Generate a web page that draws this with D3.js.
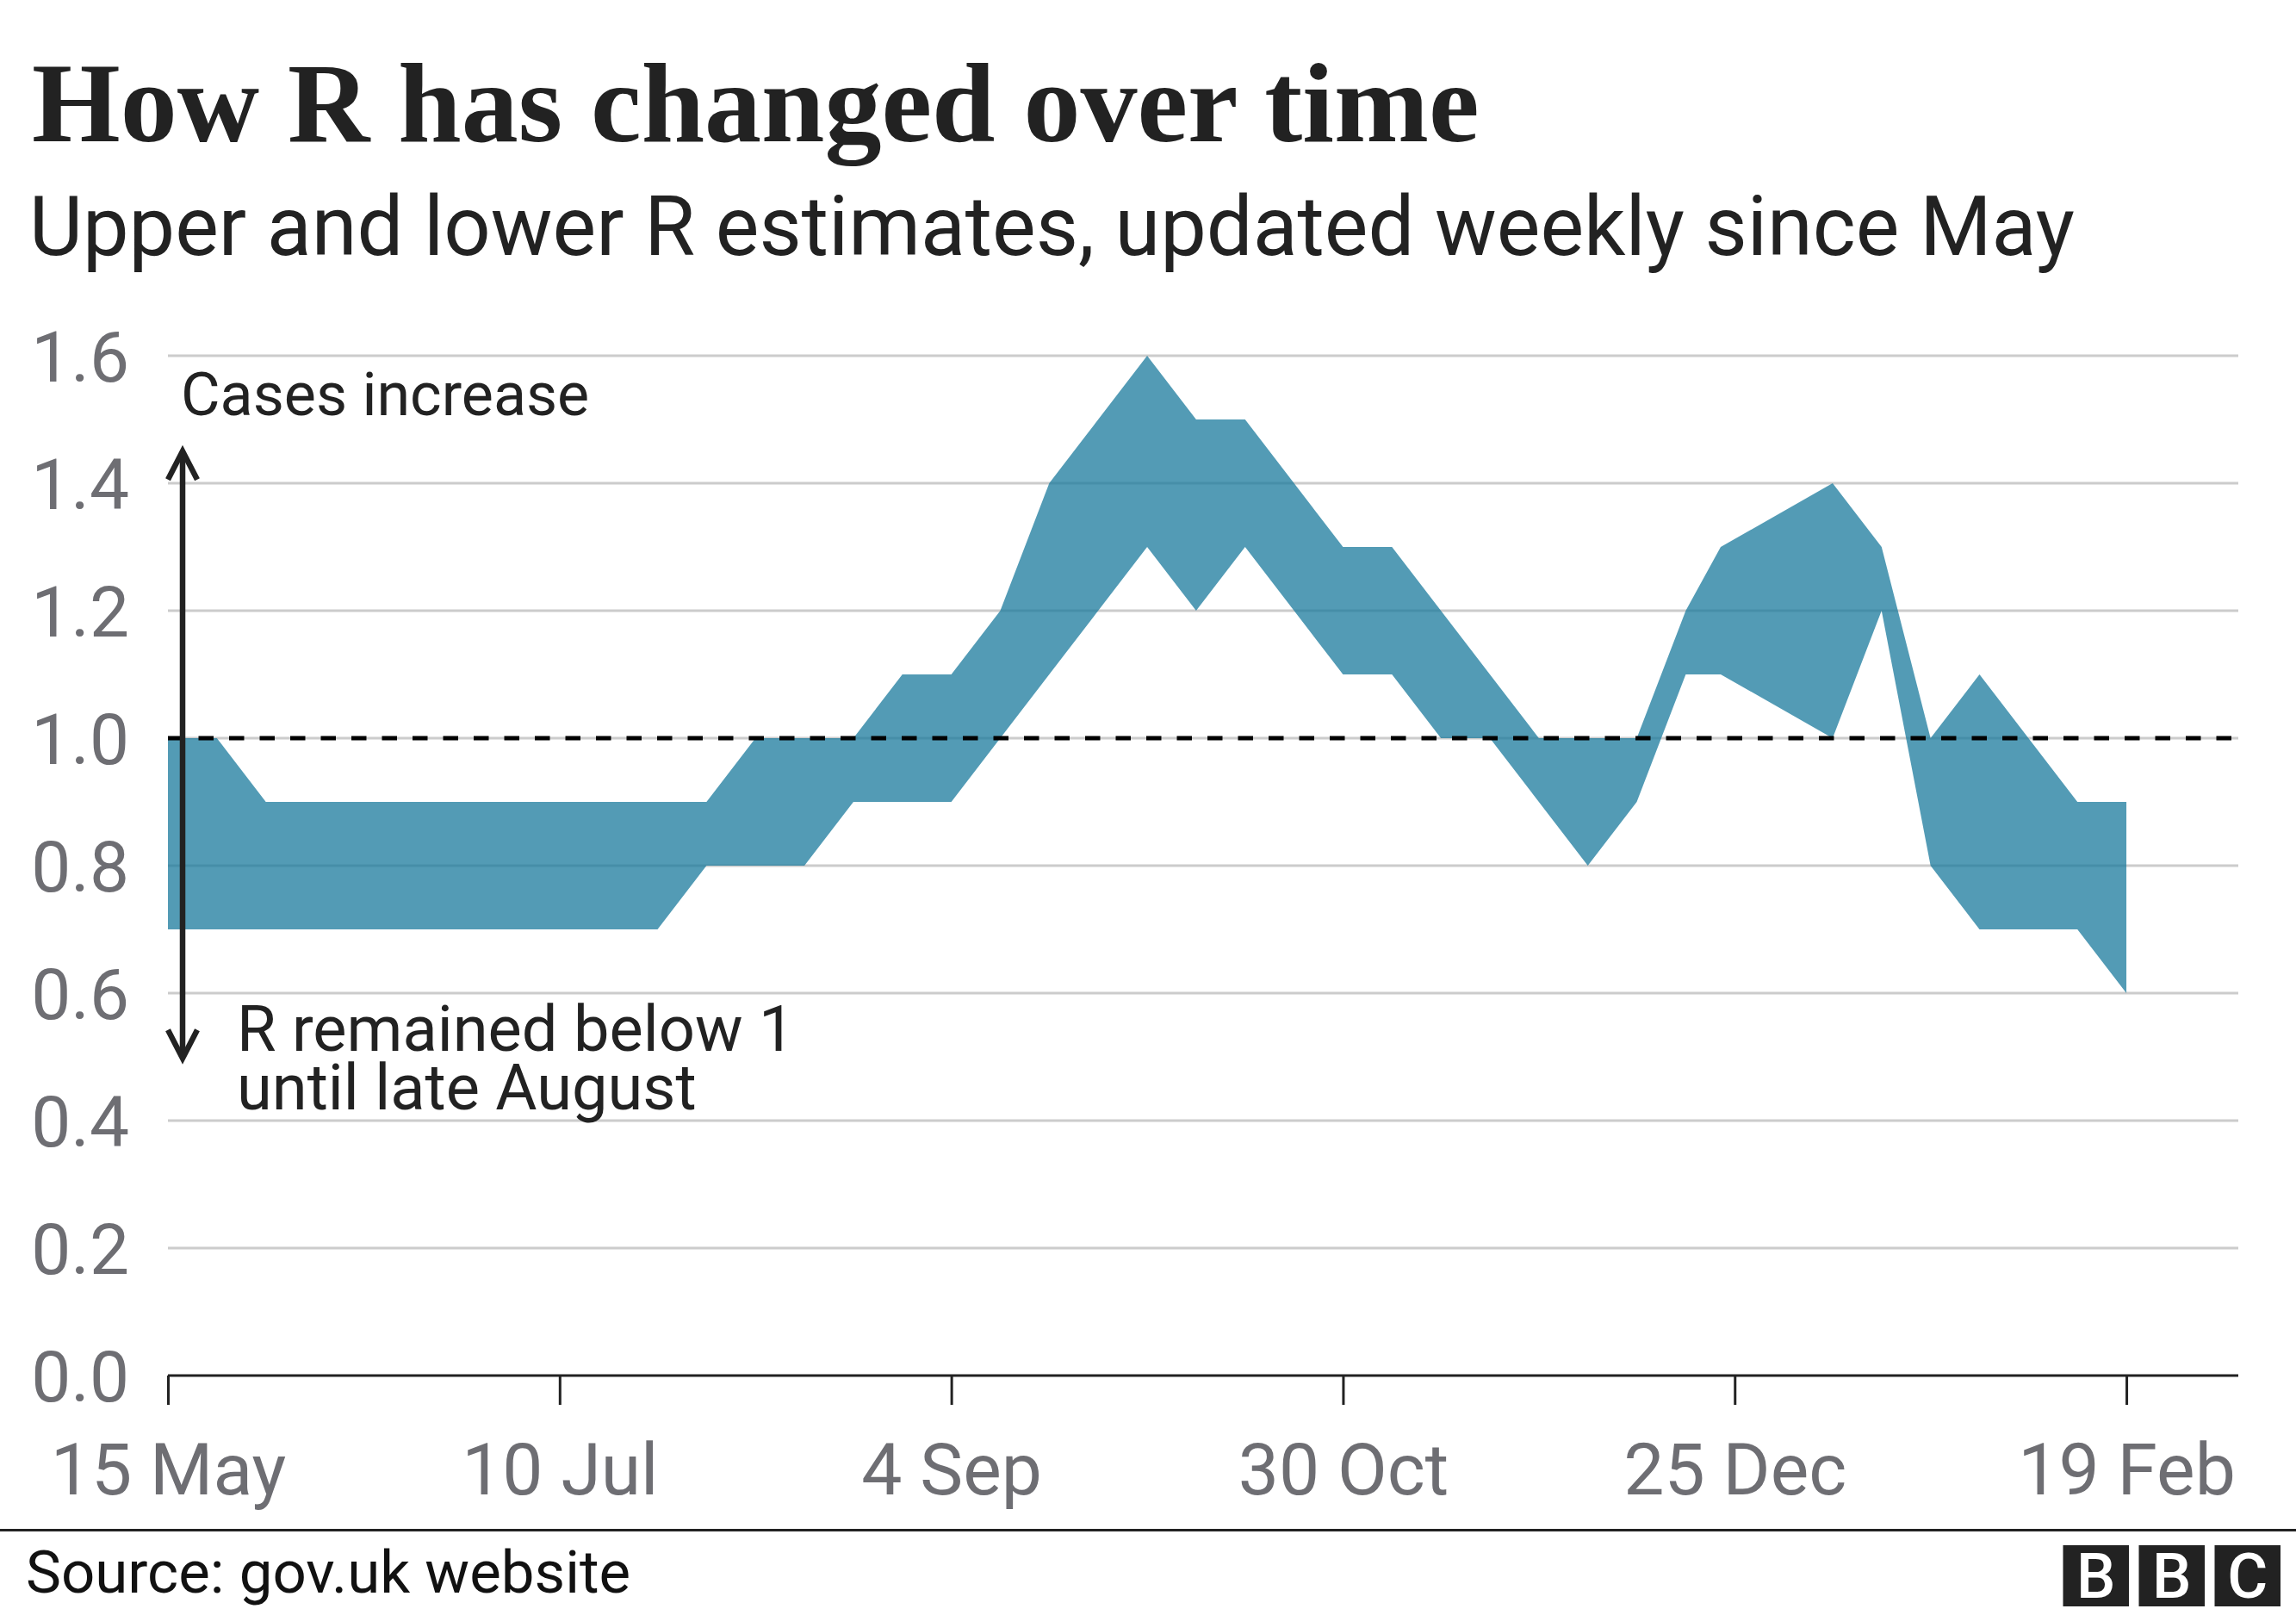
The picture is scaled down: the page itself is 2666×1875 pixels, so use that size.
<!DOCTYPE html>
<html>
<head>
<meta charset="utf-8">
<script src="https://cdn.jsdelivr.net/npm/d3@7"></script>
<style>
  body { margin: 0; background: #fff; }
  svg { display: block; }
</style>
</head>
<body>
<svg id="chart" width="2666" height="1875"></svg>
<script>
// ---------------- DATA ----------------
const dates = [
  "2020-05-15","2020-05-22","2020-05-29","2020-06-05","2020-06-12","2020-06-19",
  "2020-06-26","2020-07-03","2020-07-10","2020-07-17","2020-07-24","2020-07-31",
  "2020-08-07","2020-08-14","2020-08-21","2020-08-28","2020-09-04","2020-09-11",
  "2020-09-18","2020-09-25","2020-10-02","2020-10-09","2020-10-16","2020-10-23",
  "2020-10-30","2020-11-06","2020-11-13","2020-11-20","2020-11-27","2020-12-04",
  "2020-12-11","2020-12-18","2020-12-23","2021-01-08","2021-01-15","2021-01-22",
  "2021-01-29","2021-02-05","2021-02-12","2021-02-19"
];
const lowerR = [
  0.7,0.7,0.7,0.7,0.7,0.7,
  0.7,0.7,0.7,0.7,0.7,0.8,
  0.8,0.8,0.9,0.9,0.9,1.0,
  1.1,1.2,1.3,1.2,1.3,1.2,
  1.1,1.1,1.0,1.0,0.9,0.8,
  0.9,1.1,1.1,1.0,1.2,0.8,
  0.7,0.7,0.7,0.6
];
const upperR = [
  1.0,1.0,0.9,0.9,0.9,0.9,
  0.9,0.9,0.9,0.9,0.9,0.9,
  1.0,1.0,1.0,1.1,1.1,1.2,
  1.4,1.5,1.6,1.5,1.5,1.4,
  1.3,1.3,1.2,1.1,1.0,1.0,
  1.0,1.2,1.3,1.4,1.3,1.0,
  1.1,1.0,0.9,0.9
];
const yTickValues = [0, 0.2, 0.4, 0.6, 0.8, 1.0, 1.2, 1.4, 1.6];
const xTickDates = ["2020-05-15","2020-07-10","2020-09-04","2020-10-30","2020-12-25","2021-02-19"];
const xDomain = ["2020-05-15", "2021-03-07"];
const referenceR = 1.0;

const titleText = "How R has changed over time";
const subtitleText = "Upper and lower R estimates, updated weekly since May";
const annotUp = "Cases increase";
const annotDown = ["R remained below 1", "until late August"];
const sourceText = "Source: gov.uk website";

// ---------------- SETUP ----------------
const W = 2666, H = 1875;
const plot = { left: 195, right: 2599, top: 413, bottom: 1597 };
const parse = d3.utcParse("%Y-%m-%d");
const sans = "Roboto, 'Noto Sans', sans-serif";
const ink = "#222222";
const grey = "#6e6e73";

const svg = d3.select("#chart");
svg.append("rect").attr("width", W).attr("height", H).attr("fill", "#fff");

const x = d3.scaleUtc().domain(xDomain.map(parse)).range([plot.left, plot.right]);
const y = d3.scaleLinear().domain([0, 1.6]).range([plot.bottom, plot.top]);

const data = dates.map((d, i) => ({ date: parse(d), lo: lowerR[i], hi: upperR[i] }));

// Title and subtitle
svg.append("text").attr("x", 37).attr("y", 164)
  .attr("font-family", "'Liberation Serif', serif").attr("font-weight", 700)
  .attr("font-size", 132).attr("fill", ink).text(titleText);
svg.append("text").attr("x", 34).attr("y", 296)
  .attr("font-family", sans).attr("font-size", 95.5).attr("fill", ink).text(subtitleText);

// Gridlines
const gridG = svg.append("g");
gridG.selectAll("line").data(yTickValues.filter(v => v > 0)).join("line")
  .attr("x1", plot.left).attr("x2", plot.right)
  .attr("y1", d => y(d)).attr("y2", d => y(d))
  .attr("stroke", "#cccccc").attr("stroke-width", 3);

// Y labels
svg.append("g").selectAll("text").data(yTickValues).join("text")
  .attr("x", 150).attr("y", d => y(d) + 30)
  .attr("text-anchor", "end")
  .attr("font-family", sans).attr("font-size", 82).attr("fill", grey)
  .text(d => d3.format(".1f")(d));

// Band
const area = d3.area()
  .x(d => x(d.date))
  .y0(d => y(d.lo))
  .y1(d => y(d.hi));
svg.append("path").datum(data).attr("d", area)
  .attr("fill", "#1a7a9c").attr("fill-opacity", 0.75);

// Reference dashed line at R = 1
svg.append("line")
  .attr("x1", plot.left).attr("x2", plot.right)
  .attr("y1", y(referenceR)).attr("y2", y(referenceR))
  .attr("stroke", "#000").attr("stroke-width", 5)
  .attr("stroke-dasharray", "17.5,18");

// X axis
const xAxis = d3.axisBottom(x)
  .tickValues(xTickDates.map(parse))
  .tickFormat(d3.utcFormat("%-d %b"))
  .tickSize(34).tickPadding(0);
const gx = svg.append("g").attr("transform", `translate(0,${plot.bottom})`).call(xAxis);
gx.select(".domain").attr("stroke", ink).attr("stroke-width", 3).attr("d", `M${plot.left},0H${plot.right}`);
gx.selectAll(".tick line").attr("stroke", ink).attr("stroke-width", 3);
gx.selectAll(".tick text")
  .attr("font-family", sans).attr("font-size", 84).attr("fill", grey)
  .attr("dy", null).attr("y", 138);

// Annotation arrow
const ax = x(parse("2020-05-15")) + 17;
const aTop = y(1.453), aBot = y(0.495);
const ann = svg.append("g").attr("stroke", ink).attr("stroke-width", 6.5).attr("fill", "none");
ann.append("line").attr("x1", ax).attr("x2", ax).attr("y1", aTop + 3).attr("y2", aBot - 3);
ann.append("polyline").attr("points", `${ax - 17},${aTop + 35} ${ax},${aTop + 2} ${ax + 17},${aTop + 35}`)
  .attr("stroke-linejoin", "miter");
ann.append("polyline").attr("points", `${ax - 17},${aBot - 35} ${ax},${aBot - 2} ${ax + 17},${aBot - 35}`)
  .attr("stroke-linejoin", "miter");

svg.append("text").attr("x", ax - 2).attr("y", 482)
  .attr("font-family", sans).attr("font-size", 70).attr("fill", ink).text(annotUp);
const dt = svg.append("text").attr("font-family", sans).attr("font-size", 74).attr("fill", ink);
annotDown.forEach((t, i) => {
  dt.append("tspan").attr("x", 275).attr("y", 1220 + i * 68).text(t);
});

// Footer
svg.append("line").attr("x1", 0).attr("x2", W).attr("y1", 1776.5).attr("y2", 1776.5)
  .attr("stroke", ink).attr("stroke-width", 3);
svg.append("text").attr("x", 30).attr("y", 1849)
  .attr("font-family", sans).attr("font-size", 69).attr("fill", "#111").text(sourceText);

// BBC blocks
const logo = svg.append("g");
["B", "B", "C"].forEach((ch, i) => {
  const bx = 2395.5 + i * 88;
  logo.append("rect").attr("x", bx).attr("y", 1794).attr("width", 76.5).attr("height", 71).attr("fill", ink);
  logo.append("text").attr("x", bx + 38.25).attr("y", 1794 + 35.5 + 25.5)
    .attr("text-anchor", "middle").attr("font-family", sans).attr("font-weight", 500)
    .attr("font-size", 72).attr("fill", "#fff").text(ch);
});
</script>
</body>
</html>
